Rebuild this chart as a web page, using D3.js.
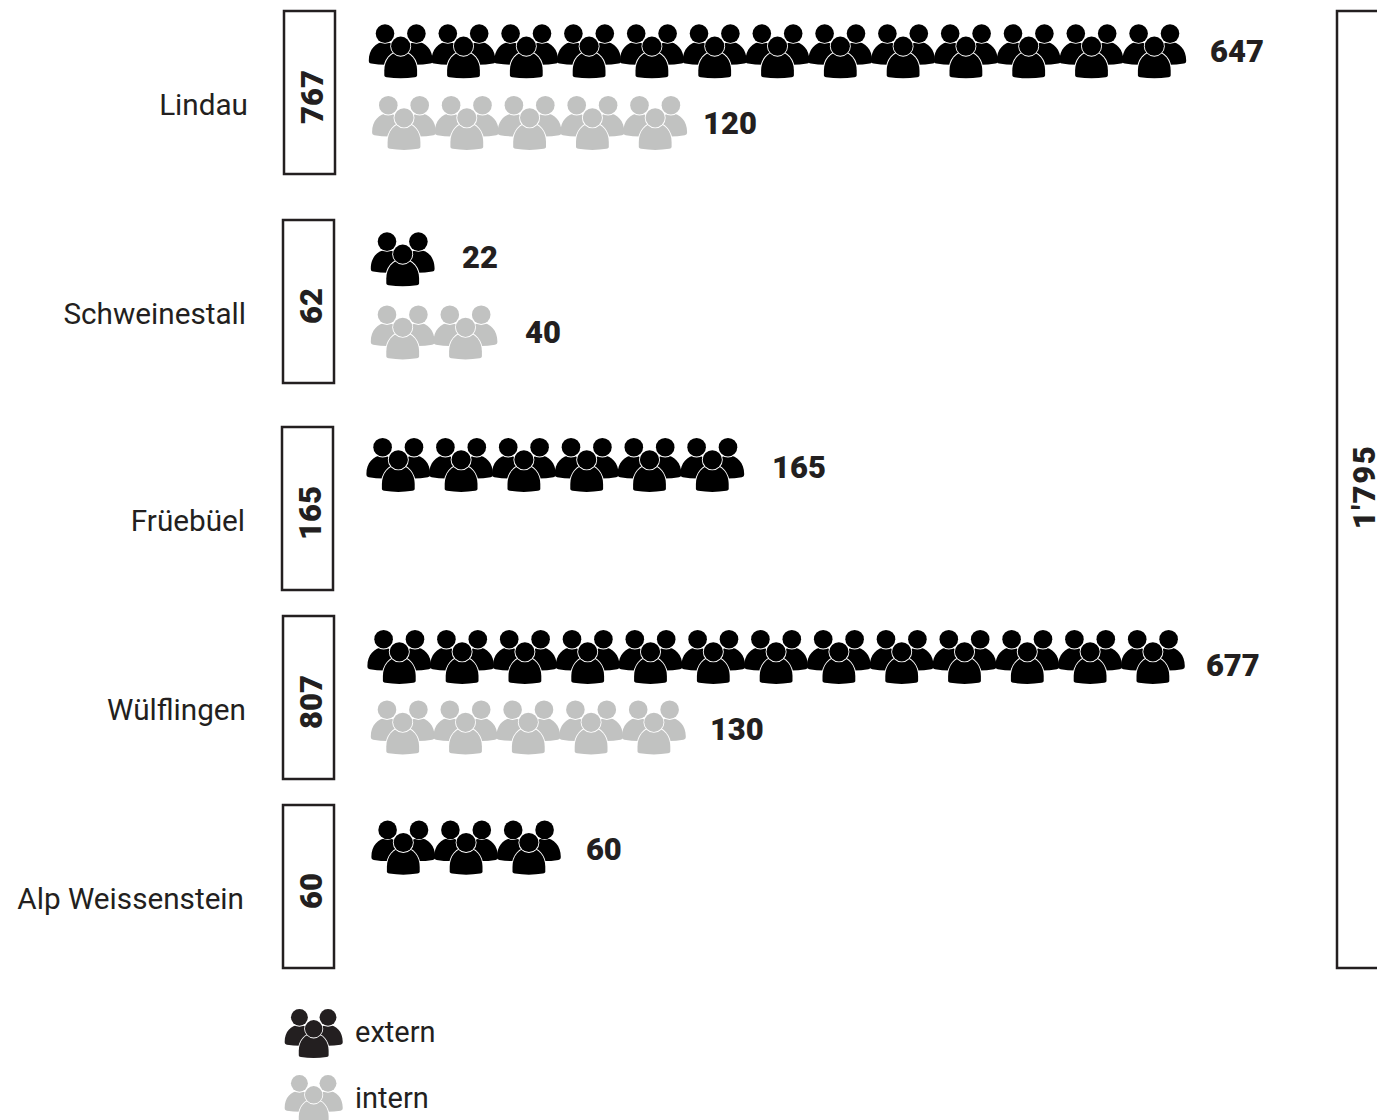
<!DOCTYPE html>
<html>
<head>
<meta charset="utf-8">
<script src="https://cdn.jsdelivr.net/npm/d3@7"></script>
<style>
  html, body { margin: 0; padding: 0; background: #fff; overflow: hidden; }
  svg { display: block; }
  text { font-family: "Roboto", sans-serif; fill: #231f20; }
  .site { font-size: 29.7px; }
  .legend { font-size: 29px; }
  .num { font-size: 31px; font-weight: 900; }
  .grand { letter-spacing: 1.6px; }
</style>
</head>
<body>
<svg id="chart" width="1377" height="1120"></svg>
<script>
// Data
const sites = ["Lindau", "Schweinestall", "Früebüel", "Wülflingen", "Alp Weissenstein"];
const totals = [767, 62, 165, 807, 60];
const externValues = [647, 22, 165, 677, 60];
const internValues = [120, 40, 0, 130, 0];
// number of people icons drawn per row (as in the picture)
const externIcons = [13, 1, 6, 13, 3];
const internIcons = [5, 2, 0, 5, 0];
const grandTotal = "1'795";
const legendLabels = ["extern", "intern"];

const black = "#000";
const gray = "#c1c2c1";

const svg = d3.select("#chart");

// Layout scales
const boxTop = d3.scaleOrdinal(sites, [11, 220, 427, 616, 805]);
const boxLeft = d3.scaleOrdinal(sites, [284, 283, 282, 283, 283]);
const labelRight = d3.scaleOrdinal(sites, [248, 246, 245, 246, 244]);
const labelY = d3.scaleOrdinal(sites, [105, 314, 521, 710, 899]);
const externTop = d3.scaleOrdinal(sites, [24.4, 232.4, 438, 630, 820.7]);
const internTop = d3.scaleOrdinal(sites, [96, 305.5, 0, 700.5, 0]);
const externX0 = d3.scaleOrdinal(sites, [400.7, 402.7, 398.3, 399.3, 403.3]);
const internX0 = d3.scaleOrdinal(sites, [404, 402.7, 0, 402.7, 0]);
const externGap = d3.scaleOrdinal(sites, [55.7, 59.3, 59.7, 53, 57]);
const internGap = d3.scaleOrdinal(sites, [47.8, 59.5, 0, 56, 0]);
const externNumY = d3.scaleOrdinal(sites, [51, 257, 467, 665, 849]);
const internNumY = d3.scaleOrdinal(sites, [123, 332, 0, 729, 0]);
const iconStep = d3.scaleLinear().domain([0, 1]).range([0, 62.8]);
const boxHeight = 163, boxWidth = 51;

// People icon, origin at the top middle. Every piece gets a thin white edge.
const defs = svg.append("defs");
const icon = defs.append("g").attr("id", "people");
const sideBody = "M0,38.5 C0,25 7,17.5 16,17.5 C25,17.5 31.9,25 31.9,36 C31.9,38.2 31.3,38.8 29.5,39.2 C20,40.8 10,40.8 2,39.2 C0.5,38.9 0,38.9 0,38.5 Z";

function halo(sel) {
  return sel.attr("stroke", "#fff").attr("stroke-width", 1.8).attr("paint-order", "stroke");
}

icon.append("path").attr("d", sideBody);
icon.append("path").attr("d", sideBody).attr("transform", "scale(-1,1)");
halo(icon.append("circle").attr("cx", -15.7).attr("cy", 9.2).attr("r", 9.3));
halo(icon.append("circle").attr("cx", 15.7).attr("cy", 9.2).attr("r", 9.3));
halo(icon.append("path")
  .attr("d", "M-16.4,46 C-16.4,36 -10,27 0,27 C10,27 16.4,36 16.4,46 L16.4,50.5 C16.4,52 15.7,52.5 14,52.8 C5,54.3 -5,54.3 -14,52.8 C-15.7,52.5 -16.4,52 -16.4,50.5 Z"));
halo(icon.append("circle").attr("cx", 0).attr("cy", 21.8).attr("r", 9.6));

function drawRow(count, x0, top, gap, numY, value, color) {
  const g = svg.append("g").attr("class", "row");
  g.selectAll("use")
    .data(d3.range(count))
    .enter()
    .append("use")
    .attr("href", "#people")
    .attr("x", d => x0 + iconStep(d))
    .attr("y", top)
    .attr("fill", color);

  g.append("text")
    .attr("class", "num")
    .attr("x", x0 + iconStep(count - 1) + gap)
    .attr("y", numY)
    .attr("dy", "0.35em")
    .text(value);
}

sites.forEach((site, i) => {
  svg.append("rect")
    .attr("x", boxLeft(site))
    .attr("y", boxTop(site))
    .attr("width", boxWidth)
    .attr("height", boxHeight)
    .attr("fill", "none")
    .attr("stroke", "#231f20")
    .attr("stroke-width", 2.5);

  const cx = boxLeft(site) + boxWidth / 2 + 3;
  const cy = boxTop(site) + 86;
  svg.append("text")
    .attr("class", "num")
    .attr("transform", `translate(${cx},${cy}) rotate(-90)`)
    .attr("text-anchor", "middle")
    .attr("dy", "0.35em")
    .text(totals[i]);

  svg.append("text")
    .attr("class", "site")
    .attr("x", labelRight(site))
    .attr("y", labelY(site))
    .attr("dy", "0.35em")
    .attr("text-anchor", "end")
    .text(site);

  drawRow(externIcons[i], externX0(site), externTop(site), externGap(site), externNumY(site), externValues[i], black);
  if (internIcons[i] > 0) {
    drawRow(internIcons[i], internX0(site), internTop(site), internGap(site), internNumY(site), internValues[i], gray);
  }
});

// Bracket for the grand total, runs off the right edge
svg.append("path")
  .attr("d", d3.line()([[1380, 11], [1337, 11], [1337, 968], [1380, 968]]))
  .attr("fill", "none")
  .attr("stroke", "#231f20")
  .attr("stroke-width", 2.5);

svg.append("text")
  .attr("class", "num grand")
  .attr("transform", "translate(1364,487) rotate(-90)")
  .attr("text-anchor", "middle")
  .attr("dy", "0.35em")
  .text(grandTotal);

// Legend
const legendY = d3.scalePoint().domain(legendLabels).range([1009, 1075]);
const legendColor = d3.scaleOrdinal(legendLabels, ["#231f20", gray]);
const legend = svg.selectAll("g.key")
  .data(legendLabels)
  .enter()
  .append("g")
  .attr("class", "key")
  .attr("transform", d => `translate(313.7,${legendY(d)}) scale(0.91)`);
legend.append("use").attr("href", "#people").attr("fill", d => legendColor(d));
svg.selectAll("text.legend")
  .data(legendLabels)
  .enter()
  .append("text")
  .attr("class", "legend")
  .attr("x", 355)
  .attr("y", d => legendY(d) + 23)
  .attr("dy", "0.35em")
  .text(d => d);
</script>
</body>
</html>
